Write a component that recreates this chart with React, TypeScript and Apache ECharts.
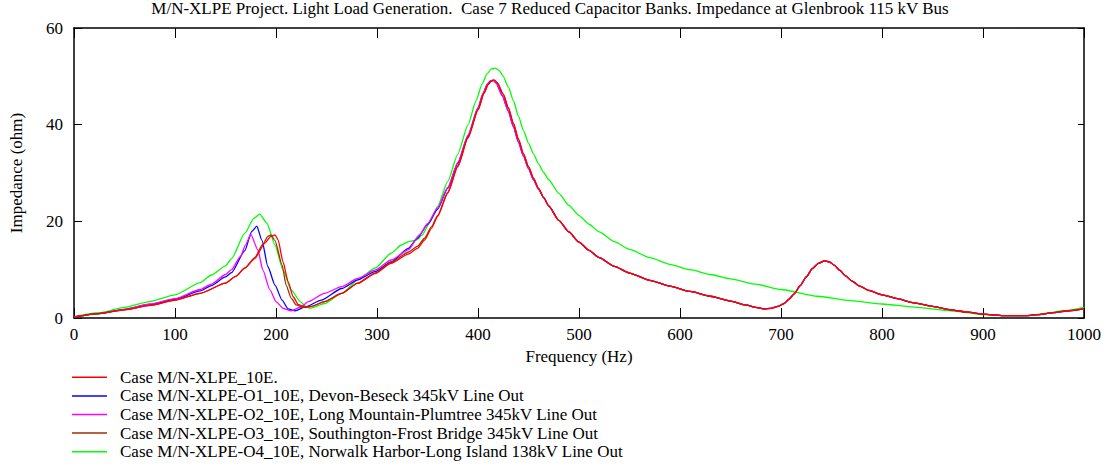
import React, { useEffect, useRef } from "react";
import * as echarts from "echarts";

const titleText =
  "M/N-XLPE Project. Light Load Generation.  Case 7 Reduced Capacitor Banks. Impedance at Glenbrook 115 kV Bus";
const xName = "Frequency (Hz)";
const yName = "Impedance (ohm)";
const xTicks = [0, 1000, 100];
const yTicks = [0, 60, 20];

const seriesNames = [
  "Case M/N-XLPE_10E.",
  "Case M/N-XLPE-O1_10E, Devon-Beseck 345kV Line Out",
  "Case M/N-XLPE-O2_10E, Long Mountain-Plumtree 345kV Line Out",
  "Case M/N-XLPE-O3_10E, Southington-Frost Bridge 345kV Line Out",
  "Case M/N-XLPE-O4_10E, Norwalk Harbor-Long Island 138kV Line Out",
];
const seriesColors = ["#ff0000", "#0000ff", "#ff00ff", "#993300", "#00ff00"];

// [frequency Hz, impedance ohm]
const redHead = [
  [0, 0.2], [25, 0.9], [50, 1.7], [75, 2.6], [100, 3.7], [125, 5.1], [150, 7.2], [160, 8.6],
  [169, 10.3], [179, 12.3], [189, 15.5], [195, 16.9], [199, 17.2], [202, 16.2], [207, 11.6],
  [212, 7.5], [217, 4.4], [222, 2.8], [229, 2.2], [235, 2.4], [248, 3.4], [265, 5.1],
  [281, 7.2], [298, 9.2], [314, 11.3], [331, 13.2], [340, 14.4], [347, 16.1], [354, 18.6],
  [360, 21.0], [370, 25.8], [380, 31.3], [390, 37.2], [400, 43.0], [406, 46.5], [410, 48.3],
  [413, 49.0], [416, 49.2], [419, 48.7], [425, 46.3], [430, 43.5], [435, 40.3], [440, 37.0],
  [445, 34.0], [450, 31.3], [455, 28.9], [460, 26.8], [465, 24.9],
];
const blueHead = [
  [0, 0.2], [25, 0.9], [50, 1.8], [75, 2.8], [100, 3.9], [125, 5.6], [136, 6.7], [150, 8.5],
  [156, 9.4], [169, 13.9], [176, 17.9], [181, 19.0], [186, 16.1], [192, 10.6], [199, 6.8],
  [206, 3.7], [212, 1.9], [219, 1.5], [229, 2.3], [245, 3.7], [265, 6.1], [281, 7.9],
  [298, 9.6], [314, 11.6], [331, 14.4], [340, 16.5], [350, 19.3], [360, 22.5], [370, 26.8],
  [380, 32.0], [390, 37.6], [400, 43.4], [405, 46.4], [409, 48.3], [412, 49.0], [415, 49.2],
  [418, 48.6], [424, 46.0], [430, 42.8], [435, 39.6], [440, 36.4], [445, 33.5], [450, 30.9],
  [455, 28.6], [460, 26.6], [465, 24.9],
];
const magentaHead = [
  [0, 0.2], [25, 0.9], [50, 1.8], [75, 2.9], [100, 4.0], [125, 5.9], [136, 7.0], [150, 9.0],
  [156, 10.0], [165, 12.8], [170, 15.2], [175, 17.3], [182, 14.1], [187, 9.9], [194, 5.8],
  [200, 3.4], [207, 2.0], [215, 1.5], [225, 2.3], [232, 3.4], [248, 5.1], [265, 6.5],
  [281, 8.2], [298, 9.9], [314, 12.0], [331, 14.1], [342, 17.2], [350, 19.5], [360, 22.8],
  [370, 27.0], [380, 32.2], [390, 37.8], [400, 43.5], [405, 46.5], [409, 48.3], [412, 49.0],
  [415, 49.2], [418, 48.6], [424, 46.0], [430, 42.8], [435, 39.6], [440, 36.4], [445, 33.5],
  [450, 30.9], [455, 28.6], [460, 26.6], [465, 24.9],
];
const brownHead = [
  [0, 0.2], [25, 0.9], [50, 1.7], [75, 2.6], [100, 3.7], [125, 5.1], [150, 7.2], [160, 8.6],
  [169, 10.3], [179, 12.5], [187, 15.3], [192, 16.9], [195, 17.2], [199, 16.0], [206, 11.0],
  [210, 6.8], [215, 4.1], [220, 2.7], [227, 2.2], [235, 2.4], [248, 3.4], [265, 5.1],
  [281, 7.2], [298, 9.3], [314, 11.5], [331, 13.6], [340, 14.8], [347, 16.5], [354, 18.9],
  [360, 21.2], [370, 26.0], [380, 31.5], [390, 37.3], [400, 43.1], [406, 46.6], [410, 48.3],
  [413, 49.0], [416, 49.2], [419, 48.7], [425, 46.3], [430, 43.5], [435, 40.3], [440, 37.0],
  [445, 34.0], [450, 31.3], [455, 28.9], [460, 26.8], [465, 24.9],
];
const sharedTail = [
  [470, 23.2], [480, 20.2], [490, 17.8], [500, 15.7], [510, 14.0], [520, 12.5], [535, 10.7],
  [550, 9.3], [570, 7.8], [590, 6.6], [610, 5.5], [630, 4.5], [650, 3.5], [665, 2.7],
  [675, 2.2], [683, 1.9], [690, 2.0], [697, 2.4], [703, 3.0], [708, 3.9], [713, 5.0],
  [719, 6.7], [725, 8.5], [731, 10.2], [737, 11.3], [743, 11.8], [748, 11.6], [753, 10.9],
  [758, 9.9], [764, 8.7], [770, 7.7], [778, 6.6], [787, 5.7], [800, 4.8], [815, 4.0],
  [830, 3.2], [850, 2.4], [868, 1.7], [885, 1.2], [900, 0.8], [920, 0.5], [943, 0.5],
  [955, 0.7], [970, 1.1], [985, 1.5], [1000, 1.9],
];
const greenData = [
  [0, 0.3], [25, 1.1], [50, 2.2], [75, 3.4], [100, 4.8], [125, 7.3], [136, 8.9], [150, 10.8],
  [156, 12.3], [169, 17.5], [178, 20.6], [184, 21.5], [191, 19.6], [199, 15.1], [207, 9.9],
  [215, 5.8], [224, 3.4], [230, 2.3], [234, 2.0], [248, 3.0], [265, 5.1], [281, 7.9],
  [298, 10.3], [314, 13.4], [324, 15.1], [331, 15.8], [339, 16.1], [345, 17.2], [352, 19.7],
  [360, 23.1], [370, 28.2], [380, 33.9], [390, 39.9], [398, 44.9], [404, 48.4], [409, 50.5],
  [413, 51.5], [417, 51.7], [421, 51.2], [425, 50.0], [430, 47.8], [435, 45.0], [440, 41.8],
  [445, 38.8], [450, 36.2], [455, 33.9], [460, 31.9], [465, 30.1], [470, 28.6], [480, 25.8],
  [490, 23.3], [500, 21.2], [510, 19.4], [520, 17.8], [535, 15.8], [550, 14.2], [570, 12.5],
  [590, 11.1], [610, 10.0], [630, 9.0], [650, 8.1], [675, 7.0], [700, 5.9], [736, 4.5],
  [769, 3.6], [800, 2.9], [835, 2.2], [868, 1.5], [900, 0.7], [920, 0.5], [945, 0.5],
  [960, 0.9], [980, 1.5], [1000, 2.2],
];

const FONT = "'Liberation Serif', 'Times New Roman', serif";
const FS = 17;

export default function App() {
  const ref = useRef<HTMLDivElement>(null);
  useEffect(() => {
    if (!ref.current) return;
    const chart = echarts.init(ref.current, null, { renderer: "svg" });
    const dataSets = [
      redHead.concat(sharedTail),
      blueHead.concat(sharedTail),
      magentaHead.concat(sharedTail),
      brownHead.concat(sharedTail),
      greenData,
    ];
    const order = [4, 1, 2, 3, 0];
    const axisCommon = {
      axisLine: { show: true, onZero: false, lineStyle: { color: "#000", width: 1.5 } },
      splitLine: { show: false },
    };
    chart.setOption({
      animation: false,
      backgroundColor: "#fff",
      textStyle: { fontFamily: FONT, color: "#000" },
      title: {
        text: titleText,
        left: 550,
        textAlign: "center",
        top: 0,
        padding: 0,
        textStyle: { fontFamily: FONT, fontSize: FS, fontWeight: "normal", color: "#000" },
      },
      grid: { left: 72, right: 25, top: 28, bottom: 157, containLabel: false },
      legend: {
        orient: "vertical",
        left: 72,
        top: 368,
        padding: 0,
        itemWidth: 35,
        itemHeight: 1.5,
        itemGap: 0,
        icon: "rect",
        data: seriesNames,
        textStyle: {
          fontFamily: FONT,
          fontSize: FS,
          lineHeight: 18.6,
          color: "#000",
          padding: [0, 0, 0, 8],
        },
      },
      xAxis: [
        {
          type: "value",
          position: "bottom",
          min: xTicks[0],
          max: xTicks[1],
          interval: xTicks[2],
          ...axisCommon,
          axisTick: { show: true, inside: true, length: 10, lineStyle: { color: "#000" } },
          axisLabel: {
            color: "#000",
            fontFamily: FONT,
            fontSize: FS,
            margin: 8,
            formatter: (v: number) => String(v),
          },
          name: xName,
          nameLocation: "middle",
          nameGap: 29,
          nameTextStyle: { fontFamily: FONT, fontSize: FS, color: "#000" },
        },
        {
          type: "value",
          position: "top",
          min: xTicks[0],
          max: xTicks[1],
          interval: xTicks[2],
          ...axisCommon,
          axisTick: { show: true, inside: true, length: 10, lineStyle: { color: "#000" } },
          axisLabel: { show: false },
        },
      ],
      yAxis: [
        {
          type: "value",
          position: "left",
          min: yTicks[0],
          max: yTicks[1],
          interval: yTicks[2],
          ...axisCommon,
          axisTick: { show: true, inside: true, length: 8, lineStyle: { color: "#000" } },
          axisLabel: { color: "#000", fontFamily: FONT, fontSize: FS, margin: 11 },
          name: yName,
          nameLocation: "middle",
          nameGap: 49,
          nameTextStyle: { fontFamily: FONT, fontSize: FS, color: "#000" },
        },
        {
          type: "value",
          position: "right",
          min: yTicks[0],
          max: yTicks[1],
          interval: yTicks[2],
          ...axisCommon,
          axisTick: { show: true, inside: true, length: 6, lineStyle: { color: "#000" } },
          axisLabel: { show: false },
        },
      ],
      series: order.map((i) => ({
        name: seriesNames[i],
        type: "line",
        data: dataSets[i],
        symbol: "none",
        showSymbol: false,
        smooth: 0.2,
        smoothMonotone: "x",
        color: seriesColors[i],
        itemStyle: { color: seriesColors[i] },
        lineStyle: { width: 1.3, color: seriesColors[i] },
        z: 2,
      })),
    });
    return () => chart.dispose();
  }, []);
  return <div ref={ref} style={{ width: 1109, height: 475, position: "absolute", left: 0, top: 0 }} />;
}
